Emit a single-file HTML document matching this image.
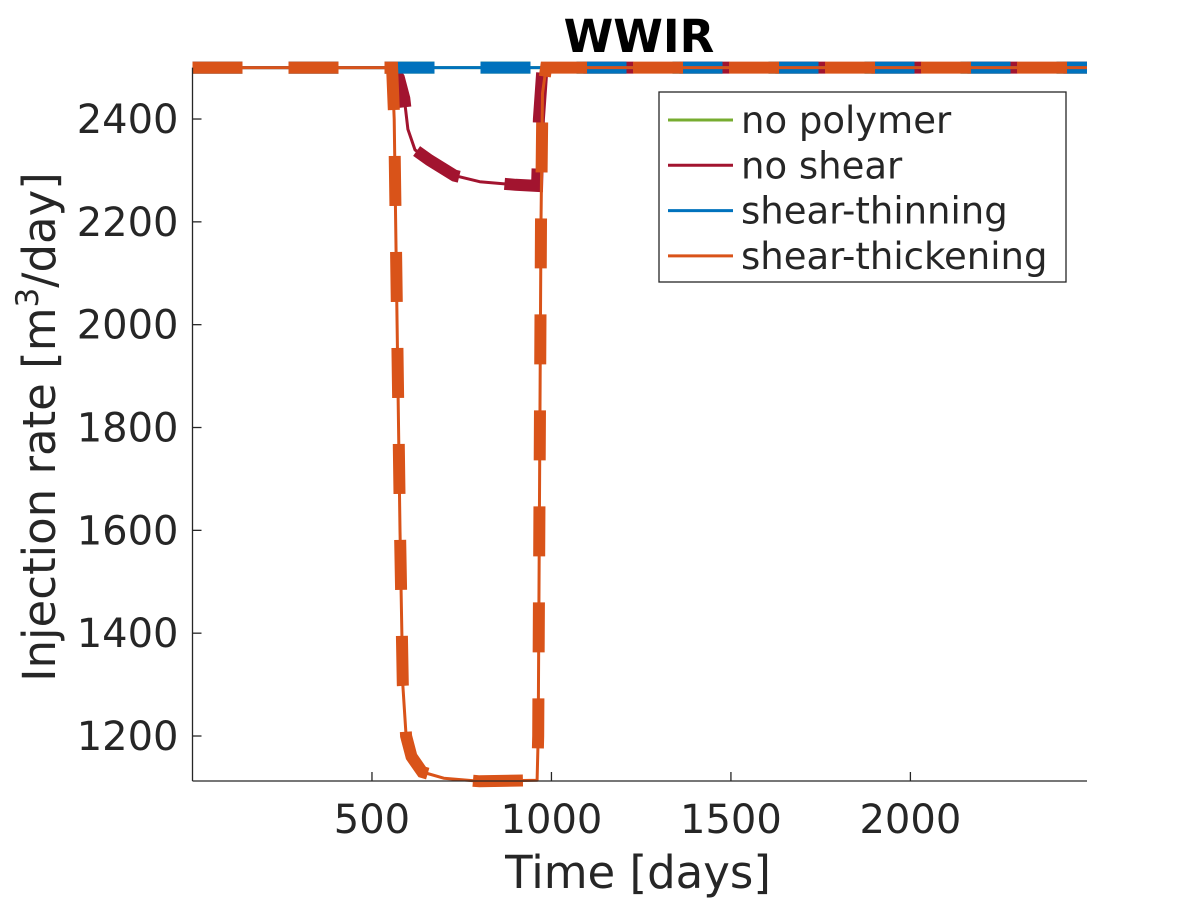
<!DOCTYPE html>
<html><head><meta charset="utf-8"><style>
html,body{margin:0;padding:0;background:#fff;}
svg text{font-family:"DejaVu Sans","Liberation Sans",sans-serif;fill:#262626;}
</style></head><body>
<svg id="chart" width="1200" height="900" viewBox="0 0 1200 900" xmlns="http://www.w3.org/2000/svg">
<text x="639" y="52" font-size="45" font-weight="bold" text-anchor="middle" style="fill:#000">WWIR</text>
<g id="plot"></g>
<g id="axes"></g>
<text x="638" y="888" font-size="45" text-anchor="middle">Time [days]</text>
<text transform="translate(55,427) rotate(-90)" font-size="45" text-anchor="middle">Injection rate [m<tspan dy="-17" font-size="31">3</tspan><tspan dy="17">/day]</tspan></text>
<g>
<rect x="659" y="92" width="407" height="190" fill="#fff" stroke="#262626" stroke-width="1.3"/>
<g id="legend-items"></g>
</g>
</svg>
<script>
const xTicks=[500,1000,1500,2000];
const yTicks=[1200,1400,1600,1800,2000,2200,2400];
const seriesNames=["no polymer","no shear","shear-thinning","shear-thickening"];
const seriesColors=["#77AC30","#A2142F","#0072BD","#D95319"];
const noPolymerX=[0,2492];
const noPolymerY=[2500,2500];
const noShearX=[0,556,575,590,600,620,660,730,800,900,960,965,975,2492];
const noShearY=[2500,2500,2480,2440,2380,2340,2320,2290,2278,2272,2270,2400,2500,2500];
const thinningX=[0,2492];
const thinningY=[2500,2500];
const thickX=[0,556,562,570,578,586,595,610,640,700,800,960,963,967,971,975,985,2492];
const thickY=[2500,2500,2400,2000,1600,1300,1200,1160,1130,1118,1112,1114,1200,1700,2200,2450,2500,2500];

const X0=192.5,X1=1087,XMIN=0,XMAX=2492;
const Y0=781,Y1=67.6,YMIN=1112.5,YMAX=2500;
const sx=v=>X0+(v-XMIN)/(XMAX-XMIN)*(X1-X0);
const sy=v=>Y0+(v-YMIN)/(YMAX-YMIN)*(Y1-Y0);
const NS="http://www.w3.org/2000/svg";
const plot=document.getElementById('plot'),axes=document.getElementById('axes');
function mk(tag,attrs,parent){const e=document.createElementNS(NS,tag);for(const k in attrs)e.setAttribute(k,attrs[k]);parent.appendChild(e);return e;}

let l=mk('line',{x1:X0,y1:Y0,x2:X1,y2:Y0,stroke:'#262626','stroke-width':1.3},axes);


l=mk('line',{x1:X0,y1:Y0,x2:X0,y2:Y1,stroke:'#262626','stroke-width':1.3},axes);


xTicks.forEach(t=>{
  const x=sx(t);
  const tk=mk('line',{x1:x,y1:Y0,x2:x,y2:Y0-9,stroke:'#262626','stroke-width':1.3},axes);
  
  
  const tx=mk('text',{x:x,y:833,'font-size':40,'text-anchor':'middle'},axes);
  tx.textContent=t;
  
  
});
yTicks.forEach(t=>{
  const y=sy(t);
  const tk=mk('line',{x1:X0,y1:y,x2:X0+9,y2:y,stroke:'#262626','stroke-width':1.3},axes);
  
  
  const tx=mk('text',{x:X0-14,y:y+14,'font-size':40,'text-anchor':'end'},axes);
  tx.textContent=t;
  
  
});

const allX=[noPolymerX,noShearX,thinningX,thickX],allY=[noPolymerY,noShearY,thinningY,thickY];
const keys=['no-polymer','no-shear','shear-thinning','shear-thickening'];
allX.forEach((xs,i)=>{
  const d=xs.map((x,j)=>(j?'L':'M')+sx(x).toFixed(1)+','+sy(allY[i][j]).toFixed(1)).join(' ');
  const g=mk('g',{},plot);
  
  
  const p1=mk('path',{d:d,fill:'none',stroke:seriesColors[i],'stroke-width':3,'stroke-linejoin':'round'},g);
  
  
  const p2=mk('path',{d:d,fill:'none',stroke:seriesColors[i],'stroke-width':12,'stroke-dasharray':'50 46','stroke-dashoffset':0},g);
  
  
});

const lg=document.getElementById('legend-items');
seriesNames.forEach((n,i)=>{
  const y=120+i*45.3;
  const ln=mk('line',{x1:668,y1:y,x2:733,y2:y,stroke:seriesColors[i],'stroke-width':3},lg);
  
  
  const t=mk('text',{x:741,y:y+13,'font-size':37},lg);
  t.textContent=n;
  
  
});
</script>
</body></html>
